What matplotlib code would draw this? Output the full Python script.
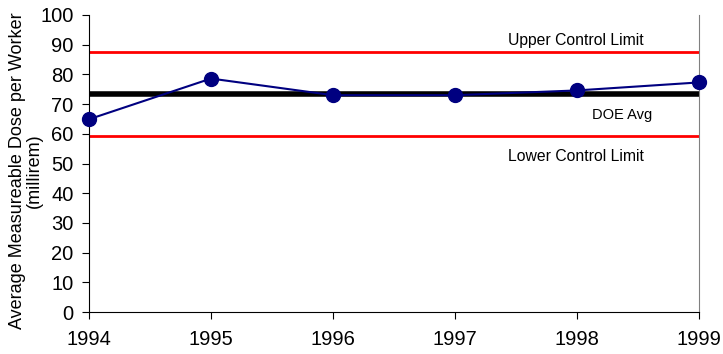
import numpy as np
import matplotlib.pyplot as plt

plt.rcParams['font.family'] = ['Liberation Sans', 'DejaVu Sans']

# Daten
years = [1994, 1995, 1996, 1997, 1998, 1999]
dose = [64.9, 78.6, 73.0, 73.0, 74.6, 77.3]
doe_avg = 73.4
upper_limit = 87.6
lower_limit = 59.2

fig = plt.figure(figsize=(7.23, 3.54), dpi=100)
ax = fig.add_axes([89 / 723, 1 - 312 / 354, 610 / 723, 297 / 354])

ax.axhline(upper_limit, color='#ff0000', lw=2)
ax.axhline(lower_limit, color='#ff0000', lw=2)
ax.axhline(doe_avg, color='black', lw=4)
ax.plot(years, dose, color='#000080', lw=1.5, marker='o', markersize=10,
        clip_on=False, zorder=5)

ax.text(1997.99, 88.8, 'Upper Control Limit', ha='center', va='bottom', fontsize=11.3)
ax.text(1998.37, 66.2, 'DOE Avg', ha='center', va='center', fontsize=10.5)
ax.text(1997.99, 52.2, 'Lower Control Limit', ha='center', va='center', fontsize=11.3)

ax.set_xlim(1994, 1999)
ax.set_ylim(0, 100)
ax.set_xticks(years)
ax.set_yticks(np.arange(0, 101, 10))
ax.tick_params(labelsize=14.5, direction='out', length=5)
ax.tick_params(axis='y', pad=6)
ax.tick_params(axis='x', pad=8)
ax.set_ylabel('Average Measureable Dose per Worker\n(millirem)', fontsize=13,
              linespacing=1.0)
ax.yaxis.set_label_coords(-0.075, 0.475)

ax.spines['top'].set_visible(False)
ax.spines['right'].set_color('#808080')

fig.savefig('out.png', dpi=100)
